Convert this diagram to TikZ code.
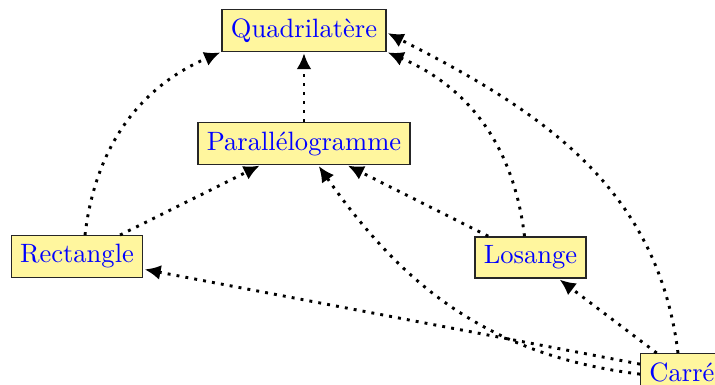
\documentclass[tikz,border=0pt]{standalone}
\usetikzlibrary{arrows.meta,calc}
\definecolor{boxfill}{RGB}{255,246,158}
\tikzset{
  shapebox/.style={draw=black!85, line width=0.5pt, fill=boxfill, text=blue, inner sep=3.33pt, font=\normalsize},
  link/.style={line width=1.1pt, dash pattern=on 1.1pt off 2.3pt, -{Latex[length=6pt,width=5.6pt]}, shorten >=0.5pt}
}
\begin{document}
\begin{tikzpicture}[x=0.377pt, y=-0.377pt]
\useasboundingbox (0,0) rectangle (715,385);
\node[shapebox] (q) at (304,30.5) {Quadrilatère};
\node[shapebox] (p) at (304,143.5) {Parallélogramme};
\node[shapebox] (r) at (77,256.5) {Rectangle};
\node[shapebox] (l) at (530.5,257.5) {Losange};
\node[shapebox, anchor=north west] (c) at (640,353) {Carré};

\draw[link] (p) -- (q);
\draw[link] (r) -- (p);
\draw[link] (l) -- (p);
\draw[link] (c) -- (l);
\draw[link] (c) -- (r);
\draw[link] ($(r.north)+(8,0)$) to[bend left=30] (q.south west);
\draw[link] ($(l.north)+(-6,0)$) to[bend right=30] (q.south east);
\draw[link] ($(c.north west)+(38,0)$) to[out=97,in=-27] ($(q.east)+(0,2)$);
\draw[link] ($(c.west)+(0,2)$) to[out=173,in=-55] ($(p.south)+(14,0)$);
\end{tikzpicture}
\end{document}
